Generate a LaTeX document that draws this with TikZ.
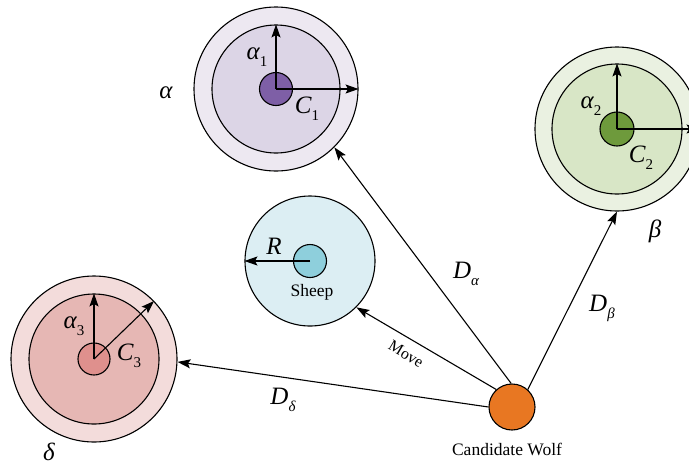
\documentclass[tikz,border=0pt]{standalone}
\usepackage{fontspec}
\setmainfont{Liberation Serif}
\usetikzlibrary{arrows.meta}
\definecolor{aOut}{HTML}{EDE8F1}
\definecolor{aIn}{HTML}{DCD5E6}
\definecolor{aCore}{HTML}{7E5FA6}
\definecolor{bOut}{HTML}{EAF1E1}
\definecolor{bIn}{HTML}{D8E6C6}
\definecolor{bCore}{HTML}{6E9A3C}
\definecolor{dOut}{HTML}{F3DCDB}
\definecolor{dIn}{HTML}{E6B7B4}
\definecolor{dCore}{HTML}{DF908D}
\definecolor{sOut}{HTML}{DCEEF3}
\definecolor{sCore}{HTML}{8ECFDC}
\definecolor{wolfc}{HTML}{E87722}
\newcommand\lsub[2]{#1\raisebox{-0.28em}{\fontsize{15}{15}\selectfont #2}}
\tikzset{
  ring/.style={circle, draw, line width=1.1pt, inner sep=0pt, minimum size=#1},
  lab/.style={font=\fontsize{25}{25}\selectfont\itshape, inner sep=0pt},
  txt/.style={font=\fontsize{17.5}{17.5}\selectfont, inner sep=0pt},
  arr/.style={line width=1.1pt, -{Stealth[length=13pt,width=9pt,inset=2.5pt]}},
  conn/.style={line width=1.1pt, -{Stealth[length=13pt,width=9pt,inset=2.5pt]}}
}
\begin{document}
\begin{tikzpicture}[x=1pt,y=-1pt]
\clip (0,0) rectangle (689,467);
\fill[white] (0,0) rectangle (689,467);
% alpha
\node[ring=164pt, fill=aOut] (aO) at (276,89) {};
\node[ring=128pt, fill=aIn] (aI) at (276,89) {};
\node[ring=33pt, fill=aCore] (aC) at (276,89) {};
\draw[arr] (aC.center) -- (aI.north);
\draw[arr] (aC.center) -- (aO.east);
% beta
\node[ring=164pt, fill=bOut] (bO) at (617,129) {};
\node[ring=130pt, fill=bIn] (bI) at (617,129) {};
\node[ring=34pt, fill=bCore] (bC) at (617,129) {};
\draw[arr] (bC.center) -- (bI.north);
\draw[arr] (bC.center) -- (bO.east);
% delta
\node[ring=166pt, fill=dOut] (dO) at (94,359) {};
\node[ring=130pt, fill=dIn] (dI) at (94,359) {};
\node[ring=32pt, fill=dCore] (dC) at (94,359) {};
\draw[arr] (dC.center) -- (dI.north);
\draw[arr] (dC.center) -- (dO.44);
% sheep
\node[ring=130pt, fill=sOut] (sO) at (310,261) {};
\node[ring=33pt, fill=sCore] (sC) at (310,261) {};
\draw[arr] (sC.center) -- (sO.west);
% wolf
\node[ring=46pt, fill=wolfc] (w) at (512,407) {};
% connectors
\draw[conn] (w.92) -- (aO.-45);
\draw[conn] (w.48) -- (bO.south);
\draw[conn] (w.132) -- (sO.-45);
\draw[conn] (w.west) -- (dO.-2);
% labels
\node[lab] (la) at (166,93) {α};
\node[lab] (la1) at (257,57) {\lsub{α}{\upshape 1}};
\node[lab] (lc1) at (307,109) {\lsub{C}{\upshape 1}};
\node[lab] (la2) at (591,106) {\lsub{α}{\upshape 2}};
\node[lab] (lc2) at (641,158) {\lsub{C}{\upshape 2}};
\node[lab] (lb) at (655,231) {β};
\node[lab] (la3) at (74,326) {\lsub{α}{\upshape 3}};
\node[lab] (lc3) at (129,356) {\lsub{C}{\upshape 3}};
\node[lab] (ld) at (49,452) {δ};
\node[lab] (lR) at (274,246) {R};
\node[lab] (lDa) at (466,274) {\lsub{D}{α}};
\node[lab] (lDb) at (602,308) {\lsub{D}{β}};
\node[lab] (lDd) at (283,400) {\lsub{D}{δ}};
\node[txt] (sheep) at (312,292) {Sheep};
\node[txt] (cw) at (507,449) {Candidate Wolf};
\node[txt, font=\fontsize{16}{16}\selectfont, rotate=-31] (mv) at (406,354) {Move};
\end{tikzpicture}
\end{document}
